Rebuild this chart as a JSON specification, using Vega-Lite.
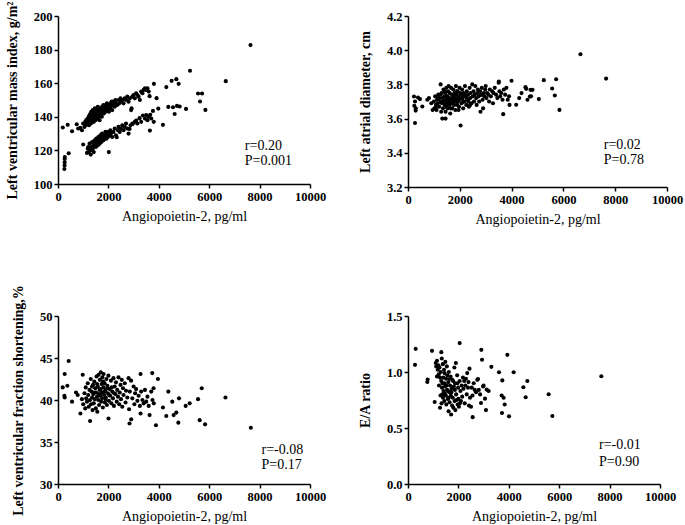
{
"$schema": "https://vega.github.io/schema/vega-lite/v6.json",
"background": "white",
"padding": {"left": 5, "top": 0, "right": 5, "bottom": 0},
"columns": 2,
"bounds": "flush",
"spacing": {"row": 129, "column": 98},
"config": {
 "view": {"stroke": null},
 "font": "Liberation Serif",
 "axis": {"grid": false, "labelOverlap": false, "tickCount": 12, "domainColor": "black", "domainWidth": 1.5, "tickColor": "black", "tickWidth": 1.5, "tickSize": 4, "labelFont": "Liberation Serif", "labelFontWeight": "bold", "labelFontSize": 12.5, "labelColor": "black", "labelPadding": 2, "titleFont": "Liberation Serif", "titleColor": "black", "titleFontSize": 14},
 "axisX": {"titleFontWeight": "normal", "titlePadding": 7, "labelFlush": false},
 "axisY": {"titleFontWeight": "bold", "titlePadding": 14},
 "circle": {"color": "black", "opacity": 1, "size": 17},
 "text": {"font": "Liberation Serif", "fontSize": 14, "align": "left", "baseline": "middle", "color": "black"}
},
"datasets": {
 "lvmi": [
  {"x":190,"y":133.6},{"x":385,"y":135.2},{"x":557,"y":131.4},{"x":743,"y":135.6},{"x":800,"y":133},{"x":889,"y":133.4},{"x":950,"y":132},{"x":1048,"y":135.8},
  {"x":1000,"y":136},{"x":1050,"y":134},{"x":1080,"y":137},{"x":1100,"y":135},{"x":1120,"y":138},{"x":1150,"y":136},{"x":1180,"y":139},{"x":1200,"y":137},{"x":1220,"y":140},{"x":1230,"y":135},{"x":1250,"y":141},{"x":1270,"y":138},{"x":1290,"y":142},{"x":1300,"y":139},{"x":1310,"y":136},{"x":1320,"y":143},{"x":1340,"y":140},{"x":1350,"y":138},{"x":1370,"y":141},{"x":1380,"y":144},{"x":1400,"y":139},{"x":1410,"y":142},{"x":1420,"y":137},{"x":1440,"y":140},{"x":1450,"y":143},{"x":1460,"y":145},{"x":1480,"y":141},{"x":1490,"y":138},{"x":1500,"y":142},{"x":1510,"y":140},{"x":1520,"y":144},{"x":1540,"y":139},{"x":1550,"y":141},{"x":1560,"y":143},{"x":1580,"y":146},{"x":1600,"y":140},{"x":1610,"y":142},{"x":1620,"y":144},{"x":1640,"y":141},{"x":1650,"y":138},{"x":1670,"y":143},{"x":1680,"y":145},{"x":1700,"y":142},{"x":1720,"y":144},{"x":1740,"y":140},{"x":1750,"y":146},{"x":1770,"y":143},{"x":1790,"y":145},{"x":1800,"y":147},{"x":1820,"y":142},{"x":1840,"y":144},{"x":1860,"y":146},{"x":1880,"y":143},{"x":1900,"y":147},{"x":1920,"y":145},{"x":1940,"y":148},{"x":1960,"y":144},{"x":1980,"y":146},{"x":2000,"y":147},{"x":2020,"y":143},{"x":2050,"y":145},{"x":2080,"y":148},{"x":2100,"y":146},{"x":2130,"y":149},{"x":2150,"y":144},{"x":2180,"y":147},{"x":2200,"y":149},{"x":2250,"y":146},{"x":2280,"y":150},{"x":2300,"y":148},{"x":2350,"y":147},{"x":2400,"y":150},{"x":2430,"y":148},{"x":2480,"y":151},{"x":2500,"y":149},{"x":2550,"y":150},{"x":2600,"y":148},{"x":2650,"y":151},{"x":2700,"y":150},{"x":2750,"y":152},{"x":2800,"y":149},{"x":2850,"y":151},{"x":2900,"y":144},{"x":2920,"y":145},{"x":2950,"y":152},{"x":3000,"y":153},{"x":3050,"y":151},{"x":3100,"y":154},{"x":3150,"y":153},{"x":3200,"y":152},{"x":3250,"y":150},{"x":3300,"y":155},{"x":3350,"y":154},{"x":3400,"y":156},{"x":3450,"y":157},{"x":3500,"y":156},{"x":3550,"y":157},{"x":3600,"y":155},
  {"x":1000,"y":123.5},{"x":1150,"y":118.5},{"x":1180,"y":121},{"x":1200,"y":122},{"x":1220,"y":119},{"x":1250,"y":124},{"x":1280,"y":120},{"x":1300,"y":117.5},{"x":1320,"y":122},{"x":1350,"y":125},{"x":1380,"y":121},{"x":1400,"y":123},{"x":1420,"y":119},{"x":1450,"y":126},{"x":1480,"y":124},{"x":1500,"y":122},{"x":1520,"y":127},{"x":1550,"y":125},{"x":1580,"y":123},{"x":1600,"y":128},{"x":1620,"y":126},{"x":1650,"y":124},{"x":1680,"y":129},{"x":1700,"y":127},{"x":1720,"y":125},{"x":1750,"y":130},{"x":1780,"y":128},{"x":1800,"y":126},{"x":1820,"y":129},{"x":1850,"y":127},{"x":1880,"y":131},{"x":1900,"y":129},{"x":1920,"y":127},{"x":1950,"y":130},{"x":1980,"y":128},{"x":2000,"y":131},{"x":2016,"y":119},{"x":2050,"y":129},{"x":2080,"y":132},{"x":2100,"y":130},{"x":2150,"y":128},{"x":2200,"y":131},{"x":2250,"y":133},{"x":2300,"y":129},{"x":2330,"y":127.8},{"x":2380,"y":132},{"x":2400,"y":134},{"x":2450,"y":131},{"x":2500,"y":133},{"x":2550,"y":135},{"x":2600,"y":132},{"x":2650,"y":134},{"x":2700,"y":136},{"x":2750,"y":133},{"x":2800,"y":130},{"x":2838,"y":132.8},{"x":2880,"y":135},{"x":2950,"y":136},{"x":2971,"y":135.8},{"x":3050,"y":137},{"x":3103,"y":137.8},{"x":3150,"y":136},{"x":3236,"y":139.2},{"x":3300,"y":137},{"x":3369,"y":140.8},{"x":3450,"y":139},{"x":3500,"y":141},{"x":3550,"y":138},{"x":3600,"y":140},
  {"x":265,"y":114.9},{"x":265,"y":112.9},{"x":260,"y":111},{"x":252,"y":108.9},{"x":270,"y":116},{"x":424,"y":118.3},
  {"x":3912,"y":151.1},{"x":3634,"y":152.3},{"x":3979,"y":144.9},{"x":3767,"y":143.5},{"x":3660,"y":141.2},{"x":3700,"y":139},{"x":3800,"y":137},{"x":3647,"y":131.8},{"x":4164,"y":135.2},{"x":4377,"y":145.9},{"x":4562,"y":145.7},{"x":4629,"y":141.7},{"x":4721,"y":146.5},{"x":4828,"y":146.1},{"x":5080,"y":144.7},{"x":4297,"y":157.7},{"x":4509,"y":161.4},{"x":4695,"y":162.4},{"x":4788,"y":159.6},{"x":5239,"y":167.4},{"x":5557,"y":153.9},{"x":5716,"y":153.9},{"x":5637,"y":149.1},{"x":5849,"y":144.1},{"x":6658,"y":161.2},{"x":7639,"y":182.7},{"x":3806,"y":159.6}
 ],
 "lad": [
  {"x":231,"y":3.729},{"x":270,"y":3.70},{"x":244,"y":3.675},{"x":296,"y":3.647},{"x":300,"y":3.66},{"x":270,"y":3.574},{"x":386,"y":3.723},{"x":463,"y":3.714},{"x":553,"y":3.671},{"x":746,"y":3.71},{"x":810,"y":3.72},{"x":900,"y":3.69},{"x":950,"y":3.65},{"x":1067,"y":3.661},
  {"x":1000,"y":3.70},{"x":1020,"y":3.66},{"x":1050,"y":3.73},{"x":1080,"y":3.68},{"x":1100,"y":3.65},{"x":1120,"y":3.71},{"x":1150,"y":3.69},{"x":1170,"y":3.74},{"x":1200,"y":3.67},{"x":1220,"y":3.72},{"x":1250,"y":3.70},{"x":1260,"y":3.80},{"x":1280,"y":3.64},{"x":1300,"y":3.75},{"x":1310,"y":3.69},{"x":1324,"y":3.60},{"x":1340,"y":3.72},{"x":1350,"y":3.66},{"x":1370,"y":3.77},{"x":1390,"y":3.70},{"x":1400,"y":3.73},{"x":1420,"y":3.68},{"x":1440,"y":3.75},{"x":1450,"y":3.64},{"x":1470,"y":3.71},{"x":1480,"y":3.78},{"x":1500,"y":3.69},{"x":1510,"y":3.73},{"x":1530,"y":3.66},{"x":1550,"y":3.76},{"x":1560,"y":3.70},{"x":1580,"y":3.72},{"x":1600,"y":3.68},{"x":1610,"y":3.75},{"x":1630,"y":3.63},{"x":1650,"y":3.71},{"x":1660,"y":3.78},{"x":1680,"y":3.69},{"x":1700,"y":3.74},{"x":1710,"y":3.66},{"x":1730,"y":3.72},{"x":1750,"y":3.77},{"x":1760,"y":3.70},{"x":1780,"y":3.68},{"x":1800,"y":3.75},{"x":1810,"y":3.72},{"x":1830,"y":3.65},{"x":1850,"y":3.79},{"x":1860,"y":3.71},{"x":1880,"y":3.74},{"x":1900,"y":3.68},{"x":1910,"y":3.76},{"x":1930,"y":3.70},{"x":1950,"y":3.73},{"x":1970,"y":3.67},{"x":1990,"y":3.78},{"x":2000,"y":3.71},{"x":2031,"y":3.56},{"x":2050,"y":3.74},{"x":2070,"y":3.69},{"x":2090,"y":3.77},{"x":2100,"y":3.72},{"x":2130,"y":3.66},{"x":2150,"y":3.75},{"x":2170,"y":3.70},{"x":2200,"y":3.79},{"x":2220,"y":3.73},{"x":2250,"y":3.68},{"x":2270,"y":3.76},{"x":2300,"y":3.71},{"x":2320,"y":3.74},{"x":2350,"y":3.67},{"x":2380,"y":3.78},{"x":2400,"y":3.72},{"x":2420,"y":3.75},{"x":2450,"y":3.69},{"x":2480,"y":3.80},{"x":2500,"y":3.73},{"x":2530,"y":3.76},{"x":2550,"y":3.70},{"x":2580,"y":3.74},{"x":2600,"y":3.79},{"x":2630,"y":3.72},{"x":2650,"y":3.68},{"x":2680,"y":3.75},{"x":2700,"y":3.77},{"x":2730,"y":3.73},{"x":2750,"y":3.70},{"x":2780,"y":3.76},{"x":2800,"y":3.64},{"x":2820,"y":3.74},{"x":2850,"y":3.78},{"x":2866,"y":3.739},{"x":2880,"y":3.71},{"x":2900,"y":3.66},{"x":2930,"y":3.75},{"x":2950,"y":3.73},{"x":2980,"y":3.77},{"x":3000,"y":3.79},{"x":3030,"y":3.72},{"x":3060,"y":3.75},{"x":3100,"y":3.74},{"x":3130,"y":3.70},{"x":3160,"y":3.77},{"x":3200,"y":3.73},{"x":3250,"y":3.76},{"x":3280,"y":3.69},{"x":3300,"y":3.75},{"x":3350,"y":3.78},{"x":3400,"y":3.74},{"x":3450,"y":3.72},{"x":3500,"y":3.81},{"x":3530,"y":3.76},{"x":3560,"y":3.73},{"x":3600,"y":3.75},{"x":3650,"y":3.71},{"x":3676,"y":3.626},{"x":3700,"y":3.77},{"x":3750,"y":3.74},{"x":3800,"y":3.78},{"x":3850,"y":3.71},{"x":3900,"y":3.73},{"x":3920,"y":3.68},
  {"x":1150,"y":3.72},{"x":1250,"y":3.74},{"x":1350,"y":3.70},{"x":1420,"y":3.76},{"x":1480,"y":3.67},{"x":1530,"y":3.73},{"x":1570,"y":3.79},{"x":1620,"y":3.71},{"x":1690,"y":3.72},{"x":1720,"y":3.69},{"x":1780,"y":3.73},{"x":1840,"y":3.70},{"x":1890,"y":3.76},{"x":1940,"y":3.72},{"x":2020,"y":3.75},{"x":2080,"y":3.72},{"x":2140,"y":3.70},{"x":2190,"y":3.74},{"x":2260,"y":3.72},{"x":2330,"y":3.70},{"x":1450,"y":3.60},{"x":1650,"y":3.66},{"x":1950,"y":3.65},{"x":2400,"y":3.68},
  {"x":3509,"y":3.817},{"x":3997,"y":3.821},{"x":4177,"y":3.681},{"x":4293,"y":3.72},{"x":4383,"y":3.749},{"x":4537,"y":3.784},{"x":4563,"y":3.774},{"x":4614,"y":3.71},{"x":4704,"y":3.729},{"x":4730,"y":3.768},{"x":4807,"y":3.768},{"x":4750,"y":3.73},{"x":5051,"y":3.714},{"x":5244,"y":3.825},{"x":5566,"y":3.776},{"x":5668,"y":3.735},{"x":5720,"y":3.83},{"x":5848,"y":3.651},{"x":6658,"y":3.976},{"x":7648,"y":3.834}
 ],
 "lvfs": [
  {"x":186,"y":41.5},{"x":265,"y":43.1},{"x":371,"y":41.7},{"x":252,"y":40.5},{"x":265,"y":40.3},{"x":424,"y":44.65},{"x":557,"y":39.8},{"x":716,"y":40.9},{"x":782,"y":40.6},{"x":889,"y":38.4},{"x":950,"y":40.1},{"x":981,"y":43.0},{"x":1273,"y":37.5},
  {"x":1000,"y":39.5},{"x":1050,"y":40.8},{"x":1080,"y":39.0},{"x":1100,"y":41.5},{"x":1120,"y":40.2},{"x":1150,"y":39.8},{"x":1180,"y":42.0},{"x":1200,"y":40.6},{"x":1220,"y":39.2},{"x":1250,"y":41.2},{"x":1270,"y":40.0},{"x":1300,"y":42.5},{"x":1310,"y":39.5},{"x":1330,"y":41.0},{"x":1350,"y":40.3},{"x":1370,"y":38.8},{"x":1390,"y":41.8},{"x":1400,"y":40.7},{"x":1420,"y":39.6},{"x":1440,"y":42.2},{"x":1460,"y":40.1},{"x":1480,"y":41.4},{"x":1500,"y":39.0},{"x":1510,"y":40.9},{"x":1530,"y":42.8},{"x":1550,"y":40.4},{"x":1560,"y":38.6},{"x":1580,"y":41.6},{"x":1600,"y":40.0},{"x":1610,"y":43.0},{"x":1630,"y":39.4},{"x":1650,"y":41.2},{"x":1660,"y":42.4},{"x":1680,"y":40.5},{"x":1700,"y":43.3},{"x":1710,"y":39.8},{"x":1730,"y":41.9},{"x":1750,"y":40.2},{"x":1760,"y":42.7},{"x":1780,"y":39.1},{"x":1800,"y":41.5},{"x":1810,"y":43.1},{"x":1830,"y":40.6},{"x":1850,"y":42.0},{"x":1860,"y":39.7},{"x":1880,"y":41.1},{"x":1900,"y":40.3},{"x":1920,"y":42.5},{"x":1940,"y":39.4},{"x":1960,"y":41.7},{"x":1980,"y":40.8},{"x":2000,"y":42.9},{"x":2020,"y":39.9},{"x":2050,"y":41.3},{"x":2070,"y":40.5},{"x":2100,"y":42.3},{"x":2120,"y":39.6},{"x":2150,"y":41.0},{"x":2180,"y":40.2},{"x":2200,"y":42.6},{"x":2220,"y":39.3},{"x":2250,"y":41.6},{"x":2280,"y":40.7},{"x":2300,"y":42.1},{"x":2330,"y":39.8},{"x":2350,"y":41.2},{"x":2380,"y":40.4},{"x":2400,"y":42.7},{"x":2430,"y":39.5},{"x":2450,"y":40.9},{"x":2480,"y":41.8},{"x":2500,"y":40.1},{"x":2530,"y":42.4},{"x":2550,"y":39.2},{"x":2580,"y":41.4},{"x":2600,"y":40.6},{"x":2650,"y":42.0},{"x":2680,"y":39.7},{"x":2700,"y":41.1},{"x":2750,"y":40.3},{"x":2800,"y":42.6},{"x":2820,"y":38.9},{"x":2850,"y":41.0},{"x":2900,"y":42.3},{"x":2950,"y":40.2},{"x":3000,"y":41.6},{"x":3030,"y":39.5},{"x":3060,"y":40.8},{"x":3100,"y":41.3},{"x":3150,"y":39.9},{"x":3200,"y":40.5},{"x":3250,"y":39.3},{"x":3300,"y":41.0},{"x":3350,"y":40.0},{"x":3400,"y":39.6},{"x":3450,"y":41.2},{"x":3500,"y":39.8},{"x":3550,"y":40.4},{"x":3600,"y":39.3},{"x":3700,"y":41.0},{"x":3750,"y":40.0},{"x":3800,"y":39.6},
  {"x":1350,"y":41.6},{"x":1450,"y":40.9},{"x":1550,"y":41.9},{"x":1620,"y":40.7},{"x":1690,"y":41.3},{"x":1740,"y":40.9},{"x":1790,"y":42.2},{"x":1840,"y":41.0},{"x":1890,"y":40.0},{"x":1950,"y":41.4},{"x":2030,"y":40.6},{"x":2130,"y":41.5},{"x":2230,"y":40.8},
  {"x":2003,"y":37.8},{"x":2838,"y":37.2},{"x":2905,"y":37.7},{"x":3276,"y":43.1},{"x":3276,"y":38.4},{"x":3634,"y":38.2},{"x":3740,"y":43.2},{"x":3793,"y":41.4},{"x":3965,"y":42.5},{"x":3886,"y":37.0},{"x":4164,"y":39.1},{"x":4297,"y":38.1},{"x":4377,"y":41.0},{"x":4536,"y":39.8},{"x":4589,"y":38.2},{"x":4695,"y":38.5},{"x":4801,"y":40.2},{"x":4775,"y":37.3},{"x":5066,"y":39.3},{"x":5225,"y":39.6},{"x":5557,"y":40.1},{"x":5703,"y":41.4},{"x":5623,"y":37.6},{"x":5836,"y":37.1},{"x":6645,"y":40.3},{"x":7653,"y":36.7}
 ],
 "ea": [
  {"x":304,"y":1.207},{"x":278,"y":1.064},{"x":952,"y":1.189},{"x":767,"y":0.911},{"x":780,"y":0.932},{"x":1058,"y":0.732},{"x":1323,"y":1.177},{"x":1270,"y":0.681},{"x":2050,"y":1.258},{"x":2910,"y":1.198},{"x":2937,"y":1.109},{"x":3307,"y":1.046},{"x":3611,"y":0.998},{"x":4193,"y":0.998},{"x":3942,"y":1.153},{"x":3743,"y":0.925},{"x":3717,"y":0.79},{"x":3796,"y":0.77},{"x":3836,"y":0.71},{"x":3730,"y":0.634},{"x":4008,"y":0.604},{"x":4577,"y":0.864},{"x":4735,"y":0.92},{"x":4669,"y":0.774},{"x":5582,"y":0.801},{"x":5728,"y":0.607},{"x":7672,"y":0.962},{"x":2566,"y":0.597},{"x":3095,"y":0.66},{"x":3056,"y":0.762},{"x":3122,"y":0.843},{"x":2778,"y":0.937},{"x":2606,"y":0.9},{"x":2897,"y":0.723},{"x":2980,"y":0.87},{"x":3000,"y":0.88},{"x":3200,"y":0.83},{"x":2860,"y":0.80},{"x":2810,"y":0.84},
  {"x":1100,"y":1.08},{"x":1120,"y":1.05},{"x":1150,"y":1.10},{"x":1180,"y":1.02},{"x":1200,"y":1.06},{"x":1220,"y":0.98},{"x":1250,"y":1.04},{"x":1270,"y":0.95},{"x":1300,"y":1.00},{"x":1320,"y":0.92},{"x":1340,"y":1.12},{"x":1350,"y":0.86},{"x":1360,"y":0.80},{"x":1380,"y":1.07},{"x":1390,"y":0.77},{"x":1400,"y":0.95},{"x":1410,"y":0.83},{"x":1430,"y":1.02},{"x":1440,"y":0.74},{"x":1450,"y":0.90},{"x":1470,"y":0.87},{"x":1480,"y":1.09},{"x":1500,"y":0.79},{"x":1510,"y":0.94},{"x":1520,"y":0.71},{"x":1540,"y":1.05},{"x":1550,"y":0.84},{"x":1560,"y":0.97},{"x":1580,"y":0.76},{"x":1600,"y":0.91},{"x":1610,"y":0.65},{"x":1620,"y":1.00},{"x":1640,"y":0.82},{"x":1650,"y":0.73},{"x":1670,"y":0.88},{"x":1690,"y":0.96},{"x":1700,"y":0.79},{"x":1710,"y":0.62},{"x":1730,"y":0.85},{"x":1750,"y":0.70},{"x":1760,"y":0.93},{"x":1780,"y":0.77},{"x":1800,"y":0.68},{"x":1820,"y":0.87},{"x":1840,"y":1.04},{"x":1850,"y":0.74},{"x":1870,"y":0.90},{"x":1880,"y":0.66},{"x":1900,"y":1.08},{"x":1910,"y":0.80},{"x":1930,"y":0.75},{"x":1950,"y":0.97},{"x":1970,"y":0.71},{"x":1990,"y":0.86},{"x":2000,"y":0.76},{"x":2020,"y":0.69},{"x":2050,"y":0.92},{"x":2080,"y":0.83},{"x":2100,"y":0.74},{"x":2130,"y":0.88},{"x":2150,"y":0.78},{"x":2180,"y":0.95},{"x":2200,"y":0.85},{"x":2230,"y":0.92},{"x":2250,"y":0.72},{"x":2280,"y":0.88},{"x":2300,"y":0.94},{"x":2330,"y":0.80},{"x":2350,"y":0.99},{"x":2380,"y":0.86},{"x":2400,"y":0.91},{"x":2420,"y":0.70},{"x":2440,"y":1.03},{"x":2460,"y":0.77},{"x":2500,"y":0.69},{"x":2530,"y":0.86},{"x":2560,"y":0.79},{"x":2650,"y":0.84},{"x":2700,"y":0.82},{"x":2750,"y":0.93},
  {"x":1150,"y":0.96},{"x":1230,"y":0.88},{"x":1290,"y":0.79},{"x":1330,"y":0.72},{"x":1370,"y":0.90},{"x":1460,"y":0.81},{"x":1530,"y":0.88},{"x":1590,"y":0.83},{"x":1660,"y":0.94},{"x":1720,"y":0.82},{"x":1790,"y":0.92},{"x":1860,"y":0.84},{"x":1960,"y":0.90},{"x":2060,"y":0.72},{"x":1450,"y":0.99},{"x":1620,"y":0.77}
 ]
},
"concat": [
 {"width": 252, "height": 168, "layer": [
  {"data": {"name": "lvmi"}, "mark": {"type": "circle"},
   "encoding": {
    "x": {"field": "x", "type": "quantitative", "scale": {"domain": [0, 10000], "nice": false}, "axis": {"values": [0, 2000, 4000, 6000, 8000, 10000], "tickCount": 12, "format": "d", "title": "Angiopoietin-2, pg/ml"}},
    "y": {"field": "y", "type": "quantitative", "scale": {"domain": [100, 200], "nice": false, "zero": false}, "axis": {"values": [100, 120, 140, 160, 180, 200], "tickCount": 12, "format": "d", "title": "Left ventricular mass index, g/m²"}}}},
  {"data": {"values": [{"x": 7414, "y": 122.9, "t": "r=0.20"}, {"x": 7414, "y": 113.9, "t": "P=0.001"}]}, "mark": {"type": "text"},
   "encoding": {"x": {"field": "x", "type": "quantitative"}, "y": {"field": "y", "type": "quantitative"}, "text": {"field": "t"}}}
 ]},
 {"width": 259, "height": 171, "layer": [
  {"data": {"name": "lad"}, "mark": {"type": "circle"},
   "encoding": {
    "x": {"field": "x", "type": "quantitative", "scale": {"domain": [0, 10000], "nice": false}, "axis": {"values": [0, 2000, 4000, 6000, 8000, 10000], "tickCount": 12, "format": "d", "title": "Angiopoietin-2, pg/ml"}},
    "y": {"field": "y", "type": "quantitative", "scale": {"domain": [3.2, 4.2], "nice": false, "zero": false}, "axis": {"values": [3.2, 3.4, 3.6, 3.8, 4.0, 4.2], "tickCount": 12, "format": ".1f", "title": "Left atrial diameter, cm"}}}},
  {"data": {"values": [{"x": 7558, "y": 3.447, "t": "r=0.02"}, {"x": 7558, "y": 3.36, "t": "P=0.78"}]}, "mark": {"type": "text"},
   "encoding": {"x": {"field": "x", "type": "quantitative"}, "y": {"field": "y", "type": "quantitative"}, "text": {"field": "t"}}}
 ]},
 {"width": 252, "height": 168, "layer": [
  {"data": {"name": "lvfs"}, "mark": {"type": "circle"},
   "encoding": {
    "x": {"field": "x", "type": "quantitative", "scale": {"domain": [0, 10000], "nice": false}, "axis": {"values": [0, 2000, 4000, 6000, 8000, 10000], "tickCount": 12, "format": "d", "title": "Angiopoietin-2, pg/ml"}},
    "y": {"field": "y", "type": "quantitative", "scale": {"domain": [30, 50], "nice": false, "zero": false}, "axis": {"values": [30, 35, 40, 45, 50], "tickCount": 12, "format": "d", "title": "Left ventricular fraction shortening,%"}}}},
  {"data": {"values": [{"x": 8077, "y": 34.0, "t": "r=-0.08"}, {"x": 8077, "y": 32.3, "t": "P=0.17"}]}, "mark": {"type": "text"},
   "encoding": {"x": {"field": "x", "type": "quantitative"}, "y": {"field": "y", "type": "quantitative"}, "text": {"field": "t"}}}
 ]},
 {"width": 252, "height": 168, "layer": [
  {"data": {"name": "ea"}, "mark": {"type": "circle"},
   "encoding": {
    "x": {"field": "x", "type": "quantitative", "scale": {"domain": [0, 10000], "nice": false}, "axis": {"values": [0, 2000, 4000, 6000, 8000, 10000], "tickCount": 12, "format": "d", "title": "Angiopoietin-2, pg/ml"}},
    "y": {"field": "y", "type": "quantitative", "scale": {"domain": [0, 1.5], "nice": false}, "axis": {"values": [0, 0.5, 1.0, 1.5], "tickCount": 12, "format": ".1f", "title": "E/A ratio"}}}},
  {"data": {"values": [{"x": 7579, "y": 0.344, "t": "r=-0.01"}, {"x": 7579, "y": 0.20, "t": "P=0.90"}]}, "mark": {"type": "text"},
   "encoding": {"x": {"field": "x", "type": "quantitative"}, "y": {"field": "y", "type": "quantitative"}, "text": {"field": "t"}}}
 ]}
]
}
